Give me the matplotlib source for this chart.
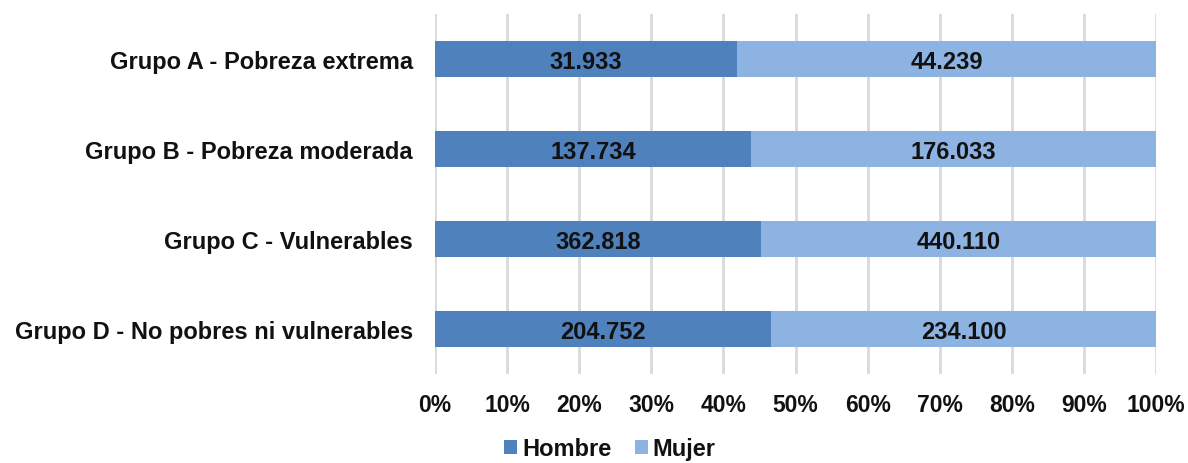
import matplotlib
matplotlib.use("Agg")
import matplotlib.pyplot as plt
import numpy as np

categories = ["Grupo A - Pobreza extrema", "Grupo B - Pobreza moderada",
              "Grupo C - Vulnerables", "Grupo D - No pobres ni vulnerables"]
hombre = [31933, 137734, 362818, 204752]
mujer = [44239, 176033, 440110, 234100]
hombre_labels = ["31.933", "137.734", "362.818", "204.752"]
mujer_labels = ["44.239", "176.033", "440.110", "234.100"]

plt.rcParams['font.family'] = ['Liberation Sans', 'DejaVu Sans']
plt.rcParams['font.weight'] = 'bold'

fig = plt.figure(figsize=(11.88, 4.64), dpi=100)
ax = fig.add_axes([435/1188, 1-375/464, (1156-435)/1188, 360/464])

h = np.array(hombre, float)
m = np.array(mujer, float)
tot = h + m
hp = h / tot * 100
mp = m / tot * 100
y = np.arange(len(categories))

c1 = "#4F81BD"
c2 = "#8DB3E2"
b1 = ax.barh(y, hp, height=0.4, color=c1, label="Hombre", zorder=3)
b2 = ax.barh(y, mp, left=hp, height=0.4, color=c2, label="Mujer", zorder=3)
for i in range(len(y)):
    ax.text(hp[i]/2, y[i], hombre_labels[i], ha='center', va='center_baseline',
            fontsize=17, fontweight='bold', color='#111111', zorder=4)
    ax.text(hp[i] + mp[i]/2, y[i], mujer_labels[i], ha='center', va='center_baseline',
            fontsize=17, fontweight='bold', color='#111111', zorder=4)

ax.set_xlim(0, 100)
ax.set_ylim(3.5, -0.5)
ax.set_xticks(np.arange(0, 101, 10))
ax.set_xticklabels([f"{v}%" for v in range(0, 101, 10)], fontsize=16.5, fontweight='bold')
ax.set_yticks(y)
ax.set_yticklabels(categories, fontsize=17, fontweight='bold')
ax.tick_params(axis='both', length=0, colors='#111111')
ax.tick_params(axis='x', pad=14)
ax.tick_params(axis='y', pad=16)
ax.grid(axis='x', color='#D9D9D9', linewidth=2, zorder=0)
for s in ax.spines.values():
    s.set_visible(False)

fig.legend(handles=[b1, b2], labels=["Hombre", "Mujer"], loc='center',
           bbox_to_anchor=(610/1188, 1-450/464), ncol=2, frameon=False,
           prop={'size': 17, 'weight': 'bold'}, handlelength=0.55, handleheight=0.55,
           handletextpad=0.2, columnspacing=1.0, labelcolor='#111111',
           borderpad=0.1)

fig.savefig("out.png", dpi=100)
